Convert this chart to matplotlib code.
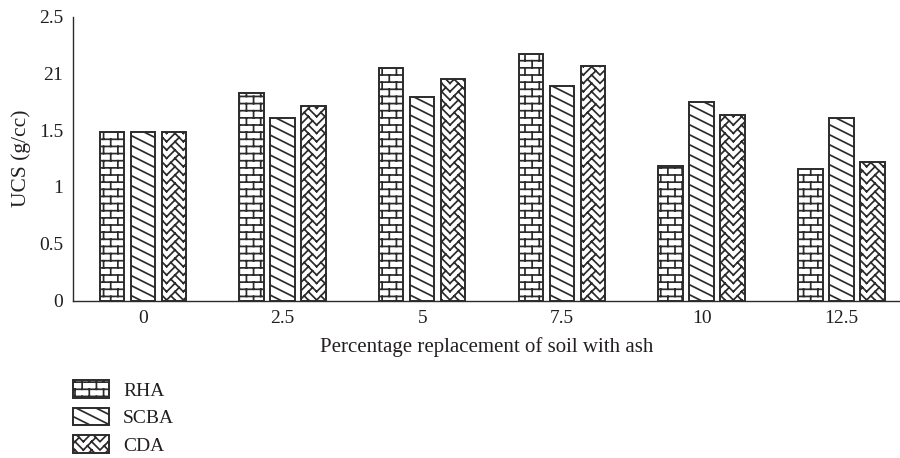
import numpy as np
import matplotlib
matplotlib.use('Agg')
import matplotlib.pyplot as plt
import matplotlib.hatch as mhatch
from matplotlib.path import Path

groups = ['0', '2.5', '5', '7.5', '10', '12.5']
series = ['RHA', 'SCBA', 'CDA']
rha = [1.48, 1.83, 2.05, 2.17, 1.18, 1.16]
scba = [1.48, 1.61, 1.79, 1.89, 1.75, 1.61]
cda = [1.48, 1.71, 1.95, 2.06, 1.63, 1.22]
yticks = [0, 0.5, 1, 1.5, 2, 2.5]
ytick_labels = ['0', '0.5', '1', '1.5', '21', '2.5']

ink = '#2b2b2b'
plt.rcParams['font.family'] = ['Liberation Serif', 'DejaVu Serif']
plt.rcParams['hatch.linewidth'] = 1.25


# custom hatch tiles (unit square, repeated over the bar)
def segs_to_path(segs):
    verts = []
    codes = []
    for (x0, y0, x1, y1) in segs:
        verts += [(x0, y0), (x1, y1)]
        codes += [Path.MOVETO, Path.LINETO]
    return Path(np.array(verts, float), codes)


def brick_path():
    rows, cols = 14, 7
    h, w = 1 / rows, 1 / cols
    segs = []
    for i in range(-1, rows):
        y = (i + 0.5) * h
        segs.append((0, y, 1, y))
        for j in range(-1, cols + 1):
            xv = (j + 0.25 + 0.5 * (i % 2)) * w
            segs.append((xv, y, xv, y + h))
    return segs_to_path(segs)


def diag_path():
    segs = []
    for k in range(16):
        y0 = k * 0.1
        segs.append((0, y0, 1, y0 - 0.5))
    return segs_to_path(segs)


def herring_path():
    n = 12
    w = 1 / n
    segs = []
    for c in range(n):
        x0 = c * w
        for k in range(-2, n + 2):
            y = k * w
            if c % 2 == 0:
                segs.append((x0, y, x0 + w, y + w))
                if k % 2 == 0:
                    segs.append((x0 + w / 2, y + w / 2, x0 + w, y))
            else:
                segs.append((x0, y + w, x0 + w, y))
                if k % 2 == 1:
                    segs.append((x0 + w / 2, y + w / 2, x0, y))
    return segs_to_path(segs)


custom = {'+': brick_path(), '\\': diag_path(), 'x': herring_path()}
_get_path = mhatch.get_path


def get_path(hatchpattern, density=6):
    if hatchpattern in custom:
        return custom[hatchpattern]
    return _get_path(hatchpattern, density)


mhatch.get_path = get_path
hatches = ['+', '\\', 'x']

fig = plt.figure(figsize=(9, 4.58), dpi=100)
ax = fig.add_axes([73 / 900, 1 - 300.5 / 458, 1 - 73 / 900, 284 / 458])

x = np.arange(len(groups))
width = 0.175
off = 0.222
for i, vals in enumerate([rha, scba, cda]):
    ax.bar(x + (i - 1) * off, vals, width, facecolor='white', edgecolor=ink,
           linewidth=1.4, hatch=hatches[i], label=series[i])

ax.set_xlim(-0.5, 5.42)
ax.set_ylim(0, 2.5)
ax.set_xticks(x)
ax.set_xticklabels(groups)
ax.set_yticks(yticks)
ax.set_yticklabels(ytick_labels)
ax.tick_params(length=0, pad=7, labelsize=14, colors='#231f20')
for s in ['top', 'right']:
    ax.spines[s].set_visible(False)
for s in ['left', 'bottom']:
    ax.spines[s].set_color(ink)
    ax.spines[s].set_linewidth(1.0)

ax.set_xlabel('Percentage replacement of soil with ash', fontsize=15,
              color='#231f20', labelpad=7)
ax.set_ylabel('UCS (g/cc)', fontsize=15.5, color='#231f20', labelpad=6)

handles, labels = ax.get_legend_handles_labels()
fig.legend(handles, labels, loc='upper left',
           bbox_to_anchor=(73 / 900, 1 - 380 / 458), frameon=False,
           handlelength=1.85, handleheight=1.03, handletextpad=0.72,
           labelspacing=0.42, borderpad=0, borderaxespad=0, fontsize=14,
           labelcolor='#231f20')

fig.savefig('out.png', dpi=100)
